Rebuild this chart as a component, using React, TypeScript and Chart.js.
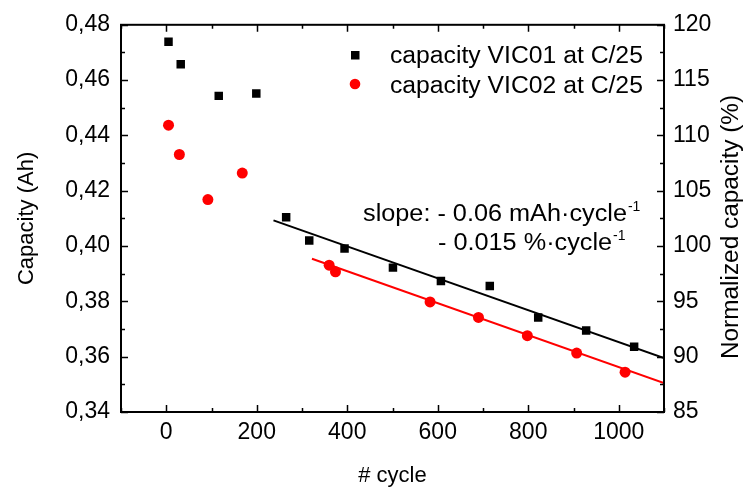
import React, { useEffect, useRef } from 'react';
import { Chart, registerables } from 'chart.js';

Chart.register(...registerables);

// ---- data ----
const vic01Cycles = [5, 32, 116, 199, 265, 316, 394, 501, 607, 715, 822, 928, 1034];
const vic01Capacity = [0.4739, 0.4657, 0.4543, 0.4552, 0.4104, 0.402, 0.3991, 0.3922, 0.3874, 0.3856, 0.3742, 0.3695, 0.3636];
const vic02Cycles = [5, 29, 92, 168, 360, 374, 583, 690, 798, 907, 1014];
const vic02Capacity = [0.4437, 0.4331, 0.4168, 0.4264, 0.3931, 0.3907, 0.3798, 0.3742, 0.3676, 0.3613, 0.3544];
const fit01Cycles = [237, 1100];
const fit01Capacity = [0.4093, 0.3595];
const fit02Cycles = [322, 1100];
const fit02Capacity = [0.3954, 0.3505];

const xTicks = [0, 200, 400, 600, 800, 1000];
const yTicks = [0.34, 0.36, 0.38, 0.4, 0.42, 0.44, 0.46, 0.48];
const y2Ticks = [85, 90, 95, 100, 105, 110, 115, 120];

const seriesLabels = ['capacity VIC01 at C/25', 'capacity VIC02 at C/25'];
const slopeLine1 = 'slope: - 0.06 mAh·cycle';
const slopeLine2 = '- 0.015 %·cycle';
const supText = '-1';
const rightTitle = 'Normalized capacity (%)';

const FONT = '"Liberation Sans", Arial, Helvetica, sans-serif';

const framePlugin = {
  id: 'frameTicks',
  afterDraw(chart: any) {
    const { ctx, chartArea: a, scales } = chart;
    ctx.save();
    ctx.strokeStyle = '#000';
    ctx.lineWidth = 2;
    ctx.strokeRect(a.left, a.top, a.right - a.left, a.bottom - a.top);
    const MAJ = 7;
    const MIN = 4;
    ctx.lineWidth = 1.5;
    ctx.beginPath();
    const xs = scales.x;
    const xStep = xTicks[1] - xTicks[0];
    for (let v = xs.min; v <= xs.max + 1e-9; v += xStep / 2) {
      const p = Math.round(xs.getPixelForValue(v)) + 0.5;
      const isMaj = xTicks.includes(Math.round(v));
      const len = isMaj ? MAJ : MIN;
      ctx.moveTo(p, a.bottom);
      ctx.lineTo(p, a.bottom - len);
      ctx.moveTo(p, a.top);
      ctx.lineTo(p, a.top + len);
    }
    const ys = scales.y;
    const yStep = yTicks[1] - yTicks[0];
    for (let i = 0; i <= (yTicks.length - 1) * 2; i++) {
      const v = yTicks[0] + (i * yStep) / 2;
      const p = Math.round(ys.getPixelForValue(v)) + 0.5;
      const len = i % 2 === 0 ? MAJ : MIN;
      ctx.moveTo(a.left, p);
      ctx.lineTo(a.left + len, p);
    }
    const y2 = scales.y2;
    const y2Step = y2Ticks[1] - y2Ticks[0];
    for (let i = 0; i <= (y2Ticks.length - 1) * 2; i++) {
      const v = y2Ticks[0] + (i * y2Step) / 2;
      const p = Math.round(y2.getPixelForValue(v)) + 0.5;
      const len = i % 2 === 0 ? MAJ : MIN;
      ctx.moveTo(a.right, p);
      ctx.lineTo(a.right - len, p);
    }
    ctx.stroke();

    const SX = 1.075;
    const fillStretched = (text: string, x: number, y: number) => {
      ctx.save();
      ctx.translate(x, y);
      ctx.scale(SX, 1);
      ctx.fillText(text, 0, 0);
      ctx.restore();
      return ctx.measureText(text).width * SX;
    };

    // legend
    const ds = chart.data.datasets;
    ctx.textBaseline = 'alphabetic';
    ctx.textAlign = 'left';
    const legendRows = [
      { ds: ds[0], baseline: 63, cy: 55 },
      { ds: ds[1], baseline: 93, cy: 84 },
    ];
    legendRows.forEach((r) => {
      ctx.fillStyle = r.ds.backgroundColor;
      if (r.ds.pointStyle === 'rect') {
        ctx.fillRect(351, r.cy - 4, 8.5, 8.5);
      } else {
        ctx.beginPath();
        ctx.arc(355, r.cy, 5.3, 0, Math.PI * 2);
        ctx.fill();
      }
      ctx.fillStyle = '#000';
      ctx.font = `23px ${FONT}`;
      fillStretched(r.ds.label, 390, r.baseline);
    });

    // slope annotation
    const drawSup = (text: string, x: number, y: number) => {
      ctx.font = `23.5px ${FONT}`;
      const w = fillStretched(text, x, y);
      ctx.font = `14px ${FONT}`;
      ctx.fillText(supText, x + w + 1, y - 10);
    };
    ctx.fillStyle = '#000';
    drawSup(slopeLine1, 363, 221);
    drawSup(slopeLine2, 438, 250);

    // right axis title (reads bottom-to-top)
    ctx.save();
    ctx.font = `23px ${FONT}`;
    ctx.textAlign = 'center';
    ctx.textBaseline = 'middle';
    ctx.translate(732, 227);
    ctx.rotate(-Math.PI / 2);
    ctx.scale(1.06, 1);
    ctx.fillText(rightTitle, 0, 0);
    ctx.restore();

    ctx.restore();
  },
};

export default function App() {
  const ref = useRef<HTMLCanvasElement | null>(null);
  useEffect(() => {
    if (!ref.current) return;
    Chart.defaults.font.family = FONT;
    Chart.defaults.color = '#000';
    const chart = new Chart(ref.current, {
      type: 'scatter',
      data: {
        datasets: [
          {
            label: seriesLabels[0],
            data: vic01Cycles.map((x, i) => ({ x, y: vic01Capacity[i] })),
            pointStyle: 'rect',
            pointRadius: 6,
            borderWidth: 0,
            backgroundColor: '#000000',
            borderColor: '#000000',
            yAxisID: 'y',
          },
          {
            label: seriesLabels[1],
            data: vic02Cycles.map((x, i) => ({ x, y: vic02Capacity[i] })),
            pointStyle: 'circle',
            pointRadius: 5.5,
            borderWidth: 0,
            backgroundColor: '#ff0000',
            borderColor: '#ff0000',
            yAxisID: 'y',
          },
          {
            label: 'fit VIC01',
            data: fit01Cycles.map((x, i) => ({ x, y: fit01Capacity[i] })),
            showLine: true,
            pointRadius: 0,
            borderWidth: 2,
            borderColor: '#000000',
            backgroundColor: '#000000',
            yAxisID: 'y',
          },
          {
            label: 'fit VIC02',
            data: fit02Cycles.map((x, i) => ({ x, y: fit02Capacity[i] })),
            showLine: true,
            pointRadius: 0,
            borderWidth: 2,
            borderColor: '#ff0000',
            backgroundColor: '#ff0000',
            yAxisID: 'y',
          },
        ],
      },
      options: {
        animation: false,
        responsive: false,
        devicePixelRatio: 1,
        layout: { padding: { top: 22, left: 0, right: 0, bottom: 0 } },
        plugins: { legend: { display: false }, tooltip: { enabled: false } },
        scales: {
          x: {
            type: 'linear',
            position: 'bottom',
            min: -100,
            max: 1100,
            grid: { display: false, drawTicks: false },
            border: { display: false },
            afterBuildTicks: (s: any) => {
              s.ticks = xTicks.map((v) => ({ value: v }));
            },
            afterFit: (s: any) => {
              s.height = 77;
            },
            ticks: {
              padding: 7,
              autoSkip: false,
              maxRotation: 0,
              font: { size: 23 },
              color: '#000',
              callback: (v: any) => String(v),
            },
            title: {
              display: true,
              text: '# cycle',
              font: { size: 22 },
              color: '#000',
              padding: { top: 0, bottom: 0 },
            },
          },
          y: {
            type: 'linear',
            position: 'left',
            min: 0.34,
            max: 0.48,
            grid: { display: false, drawTicks: false },
            border: { display: false },
            afterBuildTicks: (s: any) => {
              s.ticks = yTicks.map((v) => ({ value: v }));
            },
            afterFit: (s: any) => {
              s.width = 121;
            },
            ticks: {
              padding: 11,
              font: { size: 23 },
              color: '#000',
              callback: (v: any) => Number(v).toFixed(2).replace('.', ','),
            },
            title: {
              display: true,
              text: 'Capacity (Ah)',
              font: { size: 22 },
              color: '#000',
              padding: { top: 14, bottom: 0 },
            },
          },
          y2: {
            type: 'linear',
            position: 'right',
            display: true,
            min: 85,
            max: 120,
            grid: { display: false, drawTicks: false },
            border: { display: false },
            afterBuildTicks: (s: any) => {
              s.ticks = y2Ticks.map((v) => ({ value: v }));
            },
            afterFit: (s: any) => {
              s.width = 84;
            },
            ticks: {
              padding: 9,
              font: { size: 23 },
              color: '#000',
              callback: (v: any) => String(v),
            },
            title: { display: false },
          },
        },
      },
      plugins: [framePlugin],
    } as any);
    return () => chart.destroy();
  }, []);

  return (
    <div style={{ position: 'absolute', left: 0, top: 0, width: 748, height: 489, background: '#fff' }}>
      <canvas ref={ref} width={748} height={489} style={{ width: 748, height: 489, display: 'block' }} />
    </div>
  );
}
